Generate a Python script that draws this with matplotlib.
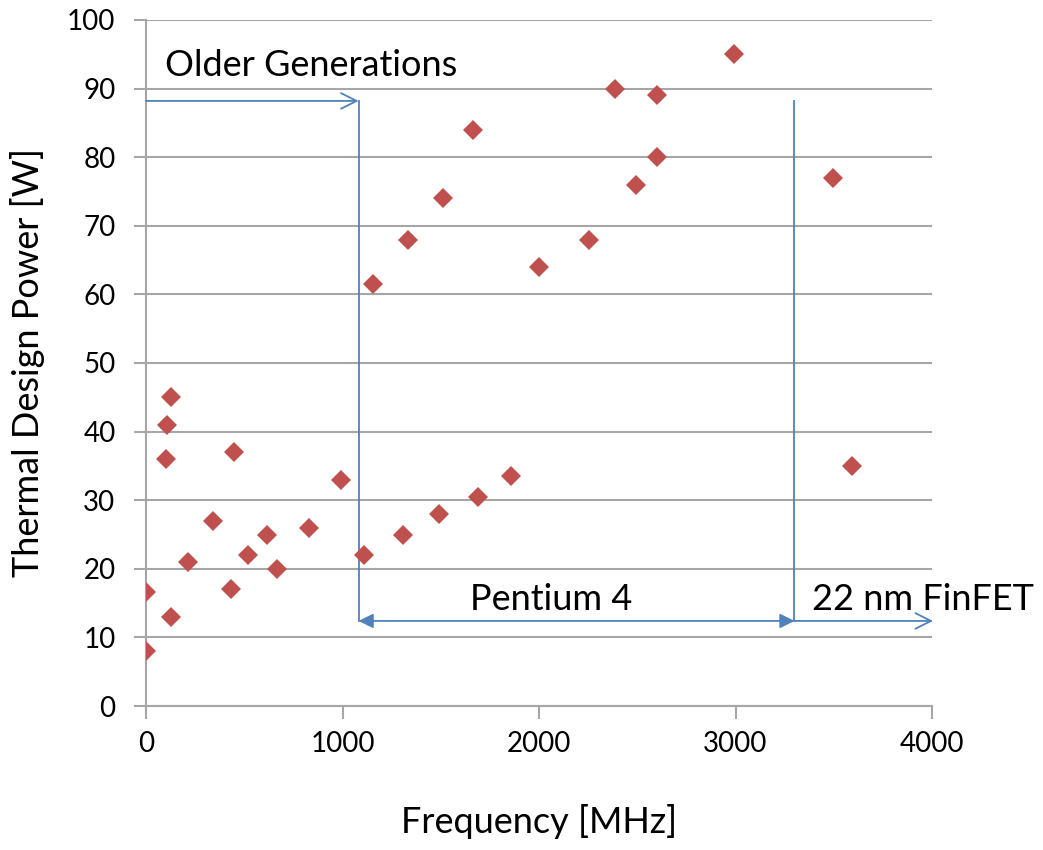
import numpy as np
import matplotlib.pyplot as plt
plt.rcParams.update({'font.family': ['Lato', 'DejaVu Sans']})

# clock frequency [MHz] and thermal design power [W]
freq = [0, 0, 126, 100, 108, 127, 215, 343, 431, 449, 519, 617, 665, 831, 992,
        1111, 1306, 1493, 1691, 1857,
        1154, 1332, 1513, 1662, 2001, 2253, 2387, 2494, 2601, 2601, 2994,
        3495, 3593]
tdp = [8, 16.6, 13, 36, 41, 45, 21, 27, 17, 37, 22, 25, 20, 26, 33,
       22, 25, 28, 30.5, 33.6,
       61.5, 68, 74, 84, 64, 68, 90, 76, 80, 89, 95,
       77, 35]

# era boundaries [MHz]
p4_start = 1082
finfet_start = 3300

blue = '#4F81BD'
grid = '#A6A6A6'

fig = plt.figure(figsize=(10.43, 8.5), dpi=100)
ax = fig.add_axes([0.14, 0.1694, 0.7536, 0.8071])

ax.plot(freq, tdp, 'D', color='#C0504D', markersize=10.5, zorder=3,
        markeredgewidth=0)

ax.set_xlim(0, 4000)
ax.set_ylim(0, 100)
ax.set_xticks(np.arange(0, 4001, 1000))
ax.set_yticks(np.arange(0, 101, 10))
ax.yaxis.grid(True, color=grid, linewidth=1.5)
ax.set_axisbelow(True)
for s in ['top', 'right']:
    ax.spines[s].set_visible(False)
for s in ['left', 'bottom']:
    ax.spines[s].set_color(grid)
    ax.spines[s].set_linewidth(1.5)
ax.tick_params(axis='both', colors=grid, width=1.5, length=9, labelsize=20,
               labelcolor='black')
ax.tick_params(axis='x', pad=9)
ax.tick_params(axis='y', pad=13)

ax.set_xlabel('Frequency [MHz]', fontsize=26, labelpad=34)
ax.set_ylabel('Thermal Design Power [W]', fontsize=26, labelpad=16)

# era markers
top_y, bot_y = 88.2, 12.4
ax.plot([p4_start, p4_start], [top_y, bot_y], color=blue, lw=1.3)
ax.plot([finfet_start, finfet_start], [top_y, bot_y], color=blue, lw=1.3)
ax.annotate('', xy=(p4_start, top_y), xytext=(0, top_y),
            arrowprops=dict(arrowstyle='->', color=blue, lw=1.3,
                            mutation_scale=28, shrinkA=0, shrinkB=0))
ax.annotate('', xy=(finfet_start, bot_y), xytext=(p4_start, bot_y),
            arrowprops=dict(arrowstyle='<|-|>', color=blue, lw=1.3,
                            mutation_scale=22, shrinkA=0, shrinkB=0))
ax.annotate('', xy=(4005, bot_y), xytext=(finfet_start, bot_y),
            arrowprops=dict(arrowstyle='->', color=blue, lw=1.3,
                            mutation_scale=28, shrinkA=0, shrinkB=0),
            annotation_clip=False)

ax.text(97, 93.3, 'Older Generations', fontsize=26, va='center')
ax.text(2061, 15.5, 'Pentium 4', fontsize=26, va='center', ha='center')
ax.text(3391, 15.5, '22 nm FinFET', fontsize=26, va='center')

plt.savefig('out.png', dpi=100)
plt.close(fig)
